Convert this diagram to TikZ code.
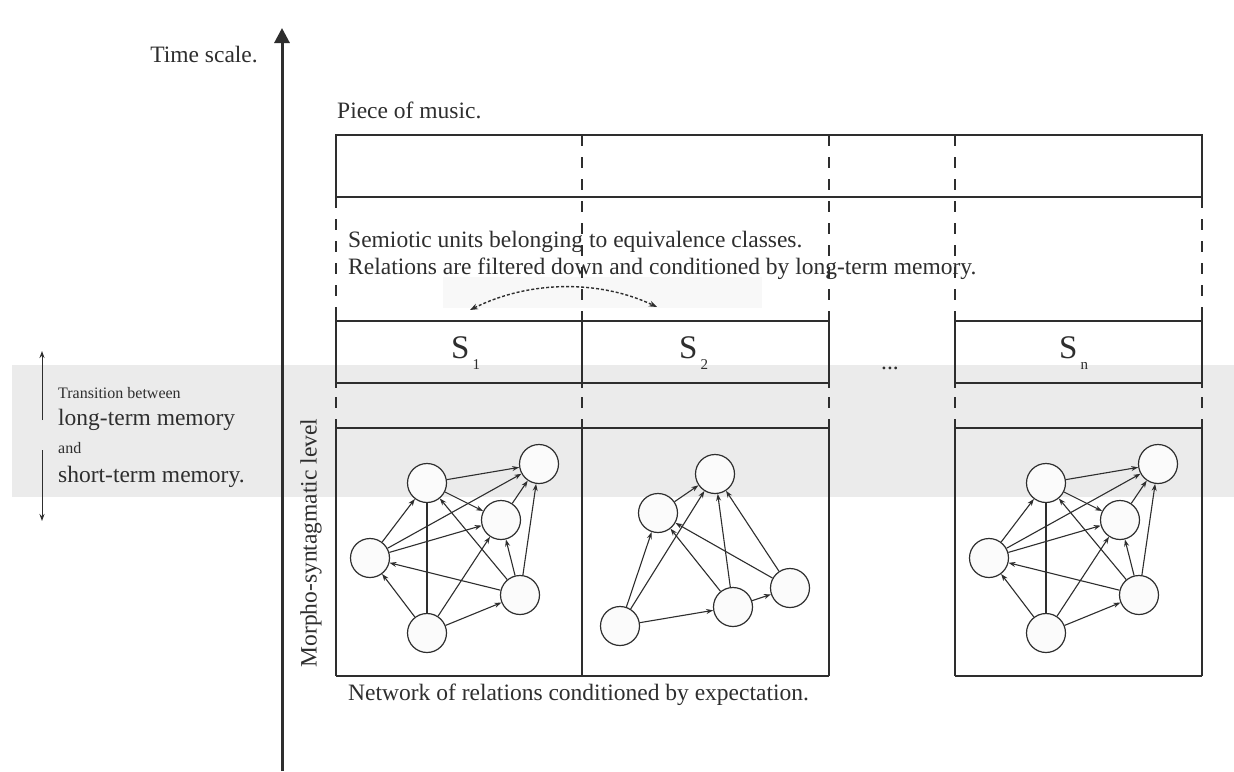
\documentclass[tikz,border=0pt]{standalone}
\usepackage{fontspec}
\setmainfont{Liberation Serif}
\usetikzlibrary{arrows.meta}
\definecolor{ink}{HTML}{2E2E2E}
\definecolor{band}{HTML}{EBEBEB}
\definecolor{faint}{HTML}{F8F8F8}
\definecolor{nodefill}{HTML}{FBFBFB}
\begin{document}
\begin{tikzpicture}[x=1pt,y=-1pt,
  lbl/.style={font=\fontsize{23.5}{28}\selectfont, text=ink, inner sep=0pt},
  smalllbl/.style={font=\fontsize{16}{19}\selectfont, text=ink, inner sep=0pt},
  slbl/.style={font=\fontsize{33}{36}\selectfont, text=ink, inner sep=0pt, anchor=base west},
  boxline/.style={draw=ink, line width=1.4pt},
  dsh/.style={draw=ink, line width=1.3pt, dash pattern=on 11pt off 11pt},
  nd/.style={circle, draw=ink, fill=nodefill, line width=1.2pt, minimum size=39pt, inner sep=0pt},
  edge/.style={draw=ink, line width=1.1pt, -{Stealth[length=7pt,width=5pt]}},
  plainedge/.style={draw=ink, line width=1.1pt},
]
\path[use as bounding box] (0,0) rectangle (1234,771);
\fill[white] (0,0) rectangle (1234,771);
\fill[band] (12,365) rectangle (1234,497);
\fill[faint] (443,277) rectangle (762,308);

% time axis
\coordinate (t0) at (282,771);
\coordinate (t1) at (282,28);
\draw[ink, line width=3pt, -{Triangle[length=15pt,width=15pt]}] (t0) -- (t1);
\node[lbl, anchor=base east] (ts) at (258,62) {Time scale.};

% piece of music
\node[lbl, anchor=base west] (pm) at (337,118) {Piece of music.};
\draw[boxline] (336,135) rectangle (1202,197);
\foreach \x in {582,829,955} \draw[dsh] (\x,135) -- (\x,312);
\foreach \x in {336,1202} \draw[dsh] (\x,197) -- (\x,312);

\node[lbl, anchor=base west] (sem1) at (348,247) {Semiotic units belonging to equivalence classes.};
\node[lbl, anchor=base west] (sem2) at (348,274) {Relations are filtered down and conditioned by long-term memory.};

% dotted arc
\coordinate (al) at (470,310);
\coordinate (ar) at (657,307);
\draw[ink, line width=1.4pt, dash pattern=on 3pt off 2pt, {Stealth[length=8pt,width=6pt]}-{Stealth[length=8pt,width=6pt]}] (al) .. controls (530,280) and (600,280) .. (ar);

% S boxes
\draw[boxline] (336,321) -- (829,321) (336,383) -- (829,383);
\draw[boxline] (955,321) -- (1202,321) (955,383) -- (1202,383);
\foreach \x in {336,582,829,955,1202} {
  \draw[boxline] (\x,312) -- (\x,388);
  \draw[dsh, dash phase=13pt] (\x,388) -- (\x,419);
}
\node[slbl] (s1) at (451,358) {S\kern3pt\raisebox{-11pt}{\fontsize{15}{15}\selectfont 1}};
\node[slbl] (s2) at (679,358) {S\kern3pt\raisebox{-11pt}{\fontsize{15}{15}\selectfont 2}};
\node[slbl] (sn) at (1059,358) {S\kern3pt\raisebox{-11pt}{\fontsize{15}{15}\selectfont n}};
\node[lbl, anchor=base] (dots) at (890,369) {...};

% network boxes
\draw[boxline] (336,428) -- (829,428) (336,676) -- (829,676);
\draw[boxline] (955,428) -- (1202,428) (955,676) -- (1202,676);
\foreach \x in {336,582,829,955,1202} \draw[boxline] (\x,419) -- (\x,676);

% left labels
\coordinate (u0) at (42,420);
\coordinate (u1) at (42,351);
\coordinate (d0) at (42,450);
\coordinate (d1) at (42,521);
\draw[ink, line width=1pt, -{Stealth[length=7pt,width=5pt]}] (u0) -- (u1);
\draw[ink, line width=1pt, -{Stealth[length=7pt,width=5pt]}] (d0) -- (d1);
\node[smalllbl, anchor=base west] (tr) at (58,398) {Transition between};
\node[lbl, anchor=base west] (ltm) at (58,425) {long-term memory};
\node[smalllbl, anchor=base west] (and) at (58,453) {and};
\node[lbl, anchor=base west] (stm) at (58,482) {short-term memory.};

\node[lbl, rotate=90] (morph) at (311,543) {Morpho-syntagmatic level};
\node[lbl, anchor=base west] (net) at (348,700) {Network of relations conditioned by expectation.};

% network 1
\node[nd] (a1) at (427,483) {};
\node[nd] (b1) at (539,464) {};
\node[nd] (c1) at (501,520) {};
\node[nd] (d1n) at (370,558) {};
\node[nd] (e1) at (520,595) {};
\node[nd] (f1) at (427,633) {};
\draw[edge] (a1) -- (b1);
\draw[edge] (a1) -- (c1);
\draw[edge] (d1n) -- (a1);
\draw[edge] (d1n) -- (b1);
\draw[edge] (d1n) -- (c1);
\draw[plainedge] (a1) -- (f1);
\draw[edge] (f1) -- (d1n);
\draw[edge] (f1) -- (c1);
\draw[edge] (f1) -- (e1);
\draw[edge] (e1) -- (d1n);
\draw[edge] (e1) -- (a1);
\draw[edge] (e1) -- (c1);
\draw[edge] (e1) -- (b1);
\draw[edge] (c1) -- (b1);

% network 2
\node[nd] (p2) at (715,474) {};
\node[nd] (q2) at (658,513) {};
\node[nd] (r2) at (620,626) {};
\node[nd] (t2) at (733,607) {};
\node[nd] (u2) at (790,588) {};
\draw[edge] (q2) -- (p2);
\draw[edge] (r2) -- (q2);
\draw[edge] (r2) -- (p2);
\draw[edge] (r2) -- (t2);
\draw[edge] (t2) -- (q2);
\draw[edge] (t2) -- (p2);
\draw[edge] (t2) -- (u2);
\draw[edge] (u2) -- (q2);
\draw[edge] (u2) -- (p2);

% network n
\node[nd] (an) at (1046,483) {};
\node[nd] (bn) at (1158,464) {};
\node[nd] (cn) at (1120,520) {};
\node[nd] (dn) at (989,558) {};
\node[nd] (en) at (1139,595) {};
\node[nd] (fn) at (1046,633) {};
\draw[edge] (an) -- (bn);
\draw[edge] (an) -- (cn);
\draw[edge] (dn) -- (an);
\draw[edge] (dn) -- (bn);
\draw[edge] (dn) -- (cn);
\draw[plainedge] (an) -- (fn);
\draw[edge] (fn) -- (dn);
\draw[edge] (fn) -- (cn);
\draw[edge] (fn) -- (en);
\draw[edge] (en) -- (dn);
\draw[edge] (en) -- (an);
\draw[edge] (en) -- (cn);
\draw[edge] (en) -- (bn);
\draw[edge] (cn) -- (bn);
\end{tikzpicture}
\end{document}
